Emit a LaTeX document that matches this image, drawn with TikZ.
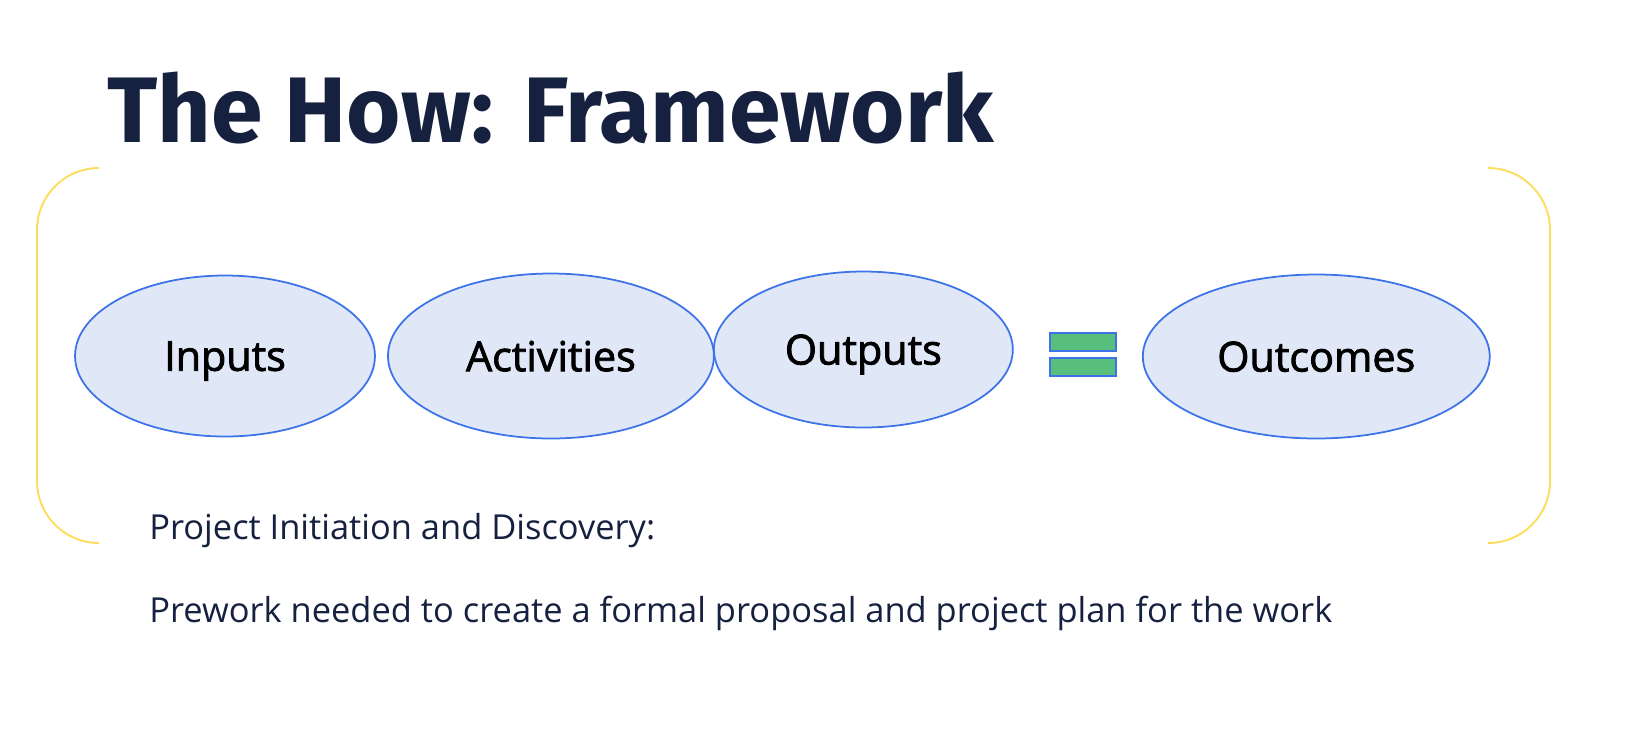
\documentclass[tikz,border=0pt]{standalone}
\usepackage{fontspec}
\setmainfont{Open Sans}
\newfontfamily\titlefont{Fira Sans}
\newfontfamily\labelfont[FakeBold=2]{Open Sans}
\usepackage{xcolor}
\usepackage{tikz}
\usetikzlibrary{shapes,positioning}

\definecolor{navy}{HTML}{15213F}
\definecolor{ovalfill}{HTML}{E0E7F7}
\definecolor{ovalline}{HTML}{3D73E8}
\definecolor{eqgreen}{HTML}{58BE7B}
\definecolor{brace}{HTML}{FDDD5E}

\begin{document}
\begin{tikzpicture}[
        x=0.02cm, y=-0.02cm,
        stage/.style={ellipse, draw=ovalline, fill=ovalfill, line width=1pt, inner sep=0pt, outer sep=0pt,
            text depth=0pt, font=\labelfont\fontsize{23.5}{28}\selectfont, text=black},
        bar/.style={rectangle, draw=ovalline, fill=eqgreen, line width=1pt, inner sep=0pt, outer sep=0pt,
            minimum width=1.32cm, minimum height=0.36cm},
        bracket/.style={draw=brace, line width=1.1pt, rounded corners=1.24cm},
        note/.style={anchor=base west, text=navy, inner sep=0pt, font=\fontsize{19.6}{24}\selectfont}
    ]
        \useasboundingbox (0,0) rectangle (1630,728);

        % Title
        \node[anchor=base west, inner sep=0pt, text=navy, font=\titlefont\bfseries\fontsize{53}{60}\selectfont] (title) at (107,142) {The How: Framework};

        % Brackets
        \draw[bracket] (99,168) -- (37,168) -- (37,543) -- (99,543);
        \draw[bracket] (1488,168) -- (1550,168) -- (1550,543) -- (1488,543);

        % Stages
        \node[stage, minimum width=6cm, minimum height=3.22cm] (inputs) at (225,356) {Inputs};
        \node[stage, minimum width=6.52cm, minimum height=3.3cm, right=0.26cm of inputs] (activities) {Activities};
        \node[stage, minimum width=5.98cm, minimum height=3.12cm, right=0cm of activities, yshift=0.13cm] (outputs) {Outputs};

        % Equals sign
        \node[bar, right=0.74cm of outputs, yshift=0.15cm] (eqtop) {};
        \node[bar, below=0.14cm of eqtop] (eqbot) {};

        \node[stage, minimum width=6.94cm, minimum height=3.28cm, right=2.6cm of outputs, yshift=-0.14cm] (outcomes) {Outcomes};

        % Notes
        \node[note] (phase) at (149,539) {Project Initiation and Discovery:};
        \node[note] (prework) at (149,622) {Prework needed to create a formal proposal and project plan for the work};
    \end{tikzpicture}
\end{document}
